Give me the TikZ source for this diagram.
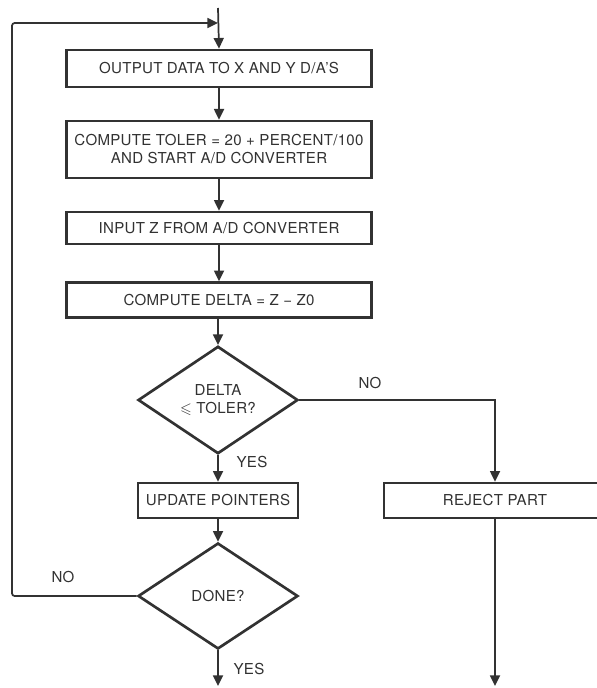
\documentclass[tikz,border=0pt]{standalone}
\usepackage{fontspec}
\setmainfont{TeX Gyre Heros}[LetterSpace=2]
\usepackage{amssymb}
\usetikzlibrary{arrows.meta,positioning,shapes.geometric}
\definecolor{inkgray}{RGB}{50,50,50}

\begin{document}
\begin{tikzpicture}[x=0.75pt, y=-0.75pt,
    procbox/.style={draw=inkgray, line width=2pt, text=inkgray, align=center,
      inner sep=0pt, font=\fontsize{11.3}{13.5}\selectfont},
    decision/.style={diamond, draw=inkgray, line width=2pt, text=inkgray, align=center,
      inner sep=0pt, minimum width=120pt, minimum height=79.5pt,
      font=\fontsize{11.3}{14}\selectfont},
    flow/.style={draw=inkgray, line width=1.3pt, -{Triangle[length=8pt,width=7.5pt]}},
    tag/.style={text=inkgray, font=\fontsize{11.3}{12}\selectfont}]
  \useasboundingbox (0,0) rectangle (596,688);

  % Process boxes
  \node[procbox, minimum width=228.75pt, minimum height=27.75pt] (out) at (219,68.5) {OUTPUT DATA TO X AND Y D/A'S};
  \node[procbox, minimum width=228.75pt, minimum height=42.75pt] (toler) at (219,149.5) {COMPUTE TOLER = 20 + PERCENT/100\\AND START A/D CONVERTER};
  \node[procbox, minimum width=228.75pt, minimum height=24pt] (inz) at (219,228) {INPUT Z FROM A/D CONVERTER};
  \node[procbox, minimum width=228.75pt, minimum height=26.25pt] (delta) at (219,300) {COMPUTE DELTA = Z − Z0};

  % Tolerance test
  \node[decision] (tst) at (218,400) {DELTA\\$\leqslant$ TOLER?};
  \node[procbox, minimum width=120pt, minimum height=26.25pt] (upd) at (218,500.5) {UPDATE POINTERS};
  \node[procbox, minimum width=166.5pt, minimum height=26.25pt] (rej) at (495,500.5) {REJECT PART};
  \node[decision] (done) at (218,596) {DONE?};

  % Free ends
  \coordinate (entry) at (218,8);
  \coordinate (merge) at (218,23);
  \coordinate (loopleft) at (12,23);
  \coordinate (exit1) at (218,686);
  \coordinate (exit2) at (495,686);

  % Connectors
  \draw[flow] (entry) -- (out.north);
  \draw[flow] (out) -- (toler);
  \draw[flow] (toler) -- (inz);
  \draw[flow] (inz) -- (delta);
  \draw[flow] (delta.south -| tst.north) -- (tst.north);
  \draw[flow] (tst) -- (upd);
  \draw[flow] (tst.east) -| (rej.north);
  \draw[flow] (upd) -- (done);
  \draw[flow, rounded corners=2pt] (done.west) -| (loopleft) -- (merge);
  \draw[flow] (done.south) -- (exit1);
  \draw[flow] (rej.south) -- (exit2);

  % Branch labels
  \node[tag] (no1) at (370,383) {NO};
  \node[tag] (yes1) at (252,462) {YES};
  \node[tag] (no2) at (63,577) {NO};
  \node[tag] (yes2) at (249,669) {YES};
\end{tikzpicture}
\end{document}
